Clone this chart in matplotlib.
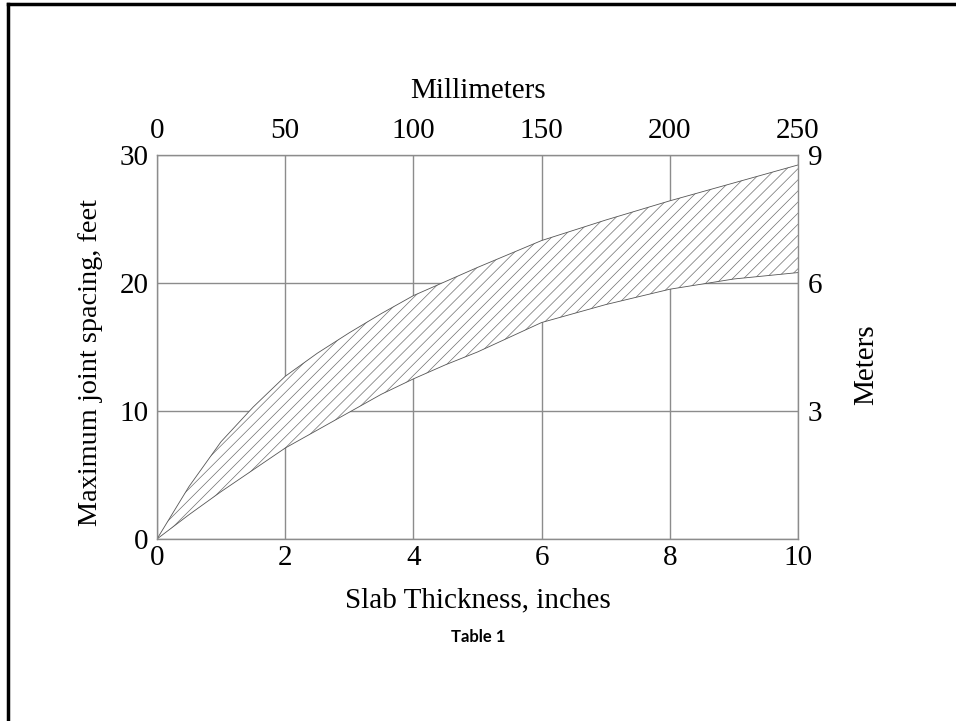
import numpy as np
import matplotlib
matplotlib.use('Agg')
import matplotlib.pyplot as plt
from matplotlib.lines import Line2D

# Slab thickness (inches) and band limits (feet)
thickness = [0, 0.5, 1, 1.5, 2, 2.5, 3, 3.5, 4, 4.5, 5, 6, 7, 8, 9, 10]
upper = [0, 4.1, 7.6, 10.3, 12.7, 14.5, 16.1, 17.6, 19.0, 20.1, 21.2, 23.3, 24.9, 26.4, 27.8, 29.2]
lower = [0, 1.9, 3.7, 5.4, 7.1, 8.5, 9.9, 11.3, 12.5, 13.6, 14.6, 16.9, 18.3, 19.5, 20.3, 20.8]

x_ticks = [0, 2, 4, 6, 8, 10]
y_ticks = [0, 10, 20, 30]
mm_ticks = [0, 50, 100, 150, 200, 250]
m_labels = ['', '3', '6', '9']

plt.rcParams['font.family'] = ['Liberation Serif', 'DejaVu Serif']
plt.rcParams['hatch.linewidth'] = 0.5
plt.rcParams['hatch.color'] = '#6e6e6e'

fs = 21

fig = plt.figure(figsize=(9.56, 7.21), dpi=100)
ax = fig.add_axes([0.1642, 0.2524, 0.6705, 0.533])

grey = '#8c8c8c'
ax.fill_between(thickness, lower, upper, facecolor='white', edgecolor='none', hatch='///')
ax.plot(thickness, upper, color='#555555', lw=0.6)
ax.plot(thickness, lower, color='#555555', lw=0.6)

ax.set_xlim(0, 10)
ax.set_ylim(0, 30)
ax.set_xticks(x_ticks)
ax.set_yticks(y_ticks)
ax.grid(True, color=grey, lw=1.0)
ax.set_axisbelow(True)
for s in ax.spines.values():
    s.set_color(grey)
    s.set_linewidth(1.0)
ax.tick_params(length=0, labelsize=fs)
ax.tick_params(axis='x', pad=4)
ax.tick_params(axis='y', pad=6)

# top axis in millimeters
top = ax.twiny()
top.set_xlim(0, 250)
top.set_xticks(mm_ticks)
top.tick_params(length=0, labelsize=fs, pad=8)
for s in top.spines.values():
    s.set_visible(False)

# right axis in meters
right = ax.twinx()
right.set_ylim(0, 30)
right.set_yticks(y_ticks)
right.set_yticklabels(m_labels)
right.tick_params(length=0, labelsize=fs, pad=7)
for s in right.spines.values():
    s.set_visible(False)

fig.text(0.5, 1 - 91 / 721, 'Millimeters', ha='center', va='center', fontsize=fs)
fig.text(91 / 956, 1 - 363 / 721, 'Maximum joint spacing, feet', rotation=90,
         ha='center', va='center', fontsize=20.3)
fig.text(866 / 956, 1 - 365 / 721, 'Meters', rotation=90,
         ha='center', va='center', fontsize=fs)
fig.text(478 / 956, 1 - 600 / 721, 'Slab Thickness, inches', ha='center', va='center', fontsize=fs)
fig.text(478 / 956, 1 - 637 / 721, 'Table 1', ha='center', va='center', fontsize=12,
         fontweight='bold', family=['Lato', 'DejaVu Sans'])

# page frame (left and top edges)
fig.add_artist(Line2D([8 / 956, 8 / 956], [0, 1 - 4 / 721], color='black', lw=2.5))
fig.add_artist(Line2D([8 / 956, 1], [1 - 4 / 721, 1 - 4 / 721], color='black', lw=2.5))

fig.savefig('out.png', dpi=100)
